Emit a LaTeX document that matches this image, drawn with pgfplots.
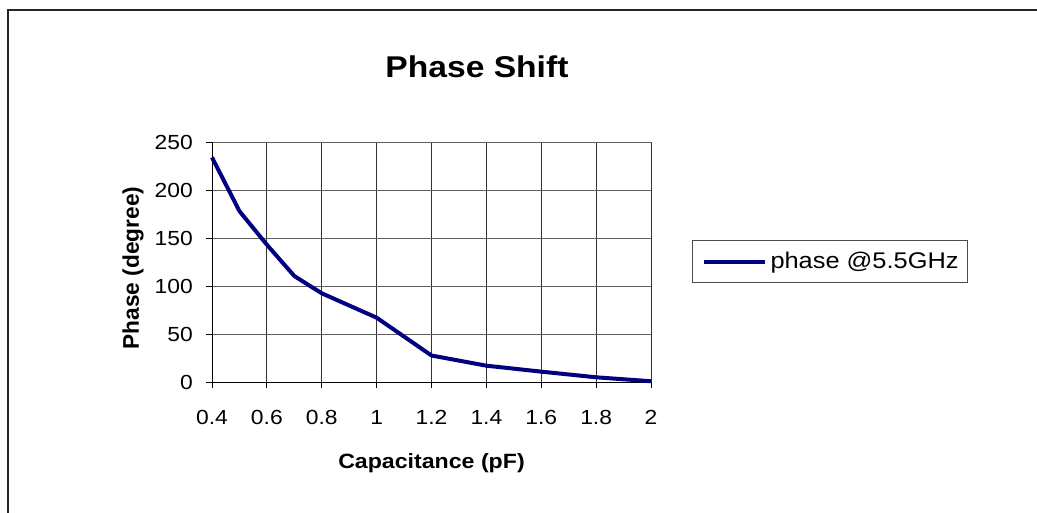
\documentclass[border=0pt]{standalone}
\usepackage{fontspec}
\setmainfont{Liberation Sans}[FakeStretch=1.12]
\newfontfamily\ylabfont{Liberation Sans}
\usepackage{pgfplots}
\pgfplotsset{compat=1.18}
\definecolor{navyline}{RGB}{0,0,128}
\begin{document}
\begin{tikzpicture}
\useasboundingbox (0pt,0pt) rectangle (777.75pt,384pt);
\draw[line width=1.5pt, draw=black!85] (6pt,-20pt) -- (6pt,376.5pt) -- (800pt,376.5pt);
\begin{axis}[
  at={(159pt,97.5pt)}, anchor=south west,
  scale only axis, width=329.25pt, height=180pt,
  xmin=0.4, xmax=2, ymin=0, ymax=250,
  xtick={0.4,0.6,0.8,1,1.2,1.4,1.6,1.8,2},
  ytick={0,50,100,150,200,250},
  /pgf/number format/assume math mode=true,
  axis x line*=bottom, axis y line*=left,
  axis line style={-, black, line width=0.75pt},
  grid=major,
  x grid style={draw=black!80, line width=0.75pt},
  y grid style={draw=black!62, line width=0.75pt},
  tick align=outside, major tick length=4.5pt,
  tick style={black, line width=0.75pt},
  ticklabel style={font=\fontsize{15.3}{18}\selectfont, inner sep=0pt},
  yticklabel style={anchor=east},
  xticklabel style={anchor=north},
  yticklabel shift=9.75pt,
  xticklabel shift=16.5pt,
  title={Phase Shift},
  title style={at={(axis description cs:0.6036,1.2375)}, anchor=base, font=\bfseries\fontsize{22.5}{27}\selectfont},
  xlabel={Capacitance (pF)},
  xlabel style={at={(axis description cs:0.5,0)}, anchor=base, yshift=-64.5pt, font=\bfseries\fontsize{15.5}{18}\selectfont},
  ylabel={Phase (degree)},
  ylabel style={at={(axis description cs:-0.18,0.475)}, anchor=center, font=\ylabfont\bfseries\fontsize{17}{20}\selectfont},
  clip=false,
  legend style={at={(axis description cs:1.0934,0.5917)}, anchor=north west,
    draw=black!70, line width=0.75pt, inner xsep=6.75pt, inner ysep=9pt,
    font=\fontsize{17}{20}\selectfont, nodes={inner sep=0pt},
    /tikz/every odd column/.append style={column sep=3pt}},
  legend image code/.code={\draw[#1] (0pt,0pt) -- (45.75pt,0pt);},
]
\addplot[color=navyline, line width=3pt] coordinates {
  (0.4,234) (0.5,178) (0.6,143) (0.7,110.4) (0.8,92.4) (1.0,67) (1.2,27.6) (1.4,17) (1.6,10.8) (1.8,4.9) (2.0,0.8)
};
\addlegendentry{phase @5.5GHz}
\end{axis}
\end{tikzpicture}
\end{document}
